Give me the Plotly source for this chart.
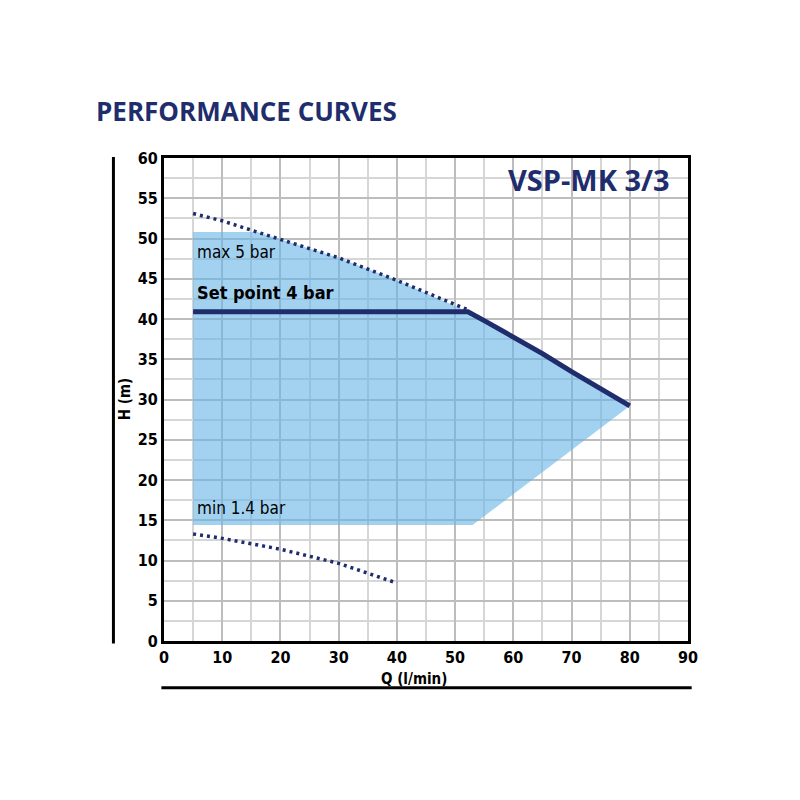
import plotly.graph_objects as go

# Q (l/min) / H (m)
max_q = [5, 10, 16, 20, 30, 40, 52]
max_h = [53.1, 52.2, 50.8, 49.9, 47.6, 44.8, 41.2]

set_q = [5, 52.2, 55, 60, 65, 70, 75, 80]
set_h = [40.9, 40.9, 39.8, 37.8, 35.7, 33.45, 31.3, 29.2]

min_q = [5, 10, 20, 30, 40]
min_h = [13.3, 12.75, 11.4, 9.65, 7.2]

shade_q = [5, 5, 16, 20, 30, 40, 52.2, 55, 60, 65, 70, 75, 80, 53]
shade_h = [14.4, 50.8, 50.8, 49.9, 47.6, 44.8, 40.9, 39.8, 37.8, 35.7, 33.45, 31.3, 29.2, 14.4]

NAVY = "#1f2d6d"
COND = "DejaVu Sans Condensed, Liberation Sans Narrow, Roboto Condensed, sans-serif"

fig = go.Figure()

# working range
fig.add_trace(go.Scatter(x=shade_q, y=shade_h, fill="toself", mode="none",
                         fillcolor="rgba(102,180,230,0.6)", hoverinfo="skip"))

fig.add_trace(go.Scatter(x=max_q, y=max_h, mode="lines",
                         line=dict(color=NAVY, width=3.5, dash="3px,4px")))
fig.add_trace(go.Scatter(x=min_q, y=min_h, mode="lines",
                         line=dict(color=NAVY, width=3.5, dash="3px,4px")))
fig.add_trace(go.Scatter(x=set_q, y=set_h, mode="lines",
                         line=dict(color=NAVY, width=5)))

tick_font = dict(family=COND, size=16, color="black", weight="bold")

fig.update_xaxes(range=[0, 90], dtick=10, tick0=0, showgrid=True,
                 gridcolor="#bdbdbd", gridwidth=2,
                 minor=dict(dtick=5, showgrid=True, gridcolor="#d6d6d6", gridwidth=1.5),
                 showline=True, linecolor="black", linewidth=3, mirror=True,
                 ticks="", tickfont=tick_font, zeroline=False, fixedrange=True)
fig.update_yaxes(range=[0, 60], dtick=5, tick0=0, showgrid=True,
                 gridcolor="#bdbdbd", gridwidth=2,
                 minor=dict(dtick=2.5, showgrid=True, gridcolor="#d6d6d6", gridwidth=1.5),
                 showline=True, linecolor="black", linewidth=3, mirror=True,
                 ticks="", tickfont=tick_font, zeroline=False, fixedrange=True)

# outer rules
fig.add_shape(type="line", xref="paper", yref="paper", x0=-0.0965, x1=-0.0965,
              y0=-0.005, y1=1.002, line=dict(color="black", width=3))
fig.add_shape(type="line", xref="paper", yref="paper", x0=-0.005, x1=1.007,
              y0=-0.097, y1=-0.097, line=dict(color="black", width=3))

fig.add_annotation(x=-0.075, y=0.5, xref="paper", yref="paper", text="H (m)",
                   textangle=-90, showarrow=False, xanchor="center", yanchor="middle",
                   font=dict(family=COND, size=15, color="black", weight="bold"))
fig.add_annotation(x=0.478, y=-0.078, xref="paper", yref="paper", text="Q (l/min)",
                   showarrow=False, xanchor="center", yanchor="middle",
                   font=dict(family=COND, size=15, color="black", weight="bold"))

fig.add_annotation(x=87.2, y=57.3, text="VSP-MK 3/3", showarrow=False, xanchor="right",
                   font=dict(family="Open Sans", size=29, color=NAVY, weight="bold"))
fig.add_annotation(x=5.3, y=48.3, text="max 5 bar", showarrow=False, xanchor="left",
                   font=dict(family=COND, size=17, color="black"))
fig.add_annotation(x=5.3, y=43.3, text="Set point 4 bar", showarrow=False, xanchor="left",
                   font=dict(family=COND, size=18, color="black", weight="bold"))
fig.add_annotation(x=5.3, y=16.5, text="min 1.4 bar", showarrow=False, xanchor="left",
                   font=dict(family=COND, size=17, color="black"))

# page body has an 8px margin, so margins are shifted by that
fig.update_layout(
    width=800, height=800,
    margin=dict(l=156, r=120, t=150, b=167),
    paper_bgcolor="white", plot_bgcolor="white",
    showlegend=False,
    title=dict(text="PERFORMANCE CURVES", x=88 / 800, xanchor="left",
               y=1 - 104 / 800, yanchor="middle",
               font=dict(family="Open Sans", size=26, color=NAVY, weight="bold")),
)

fig.write_html("out.html")
